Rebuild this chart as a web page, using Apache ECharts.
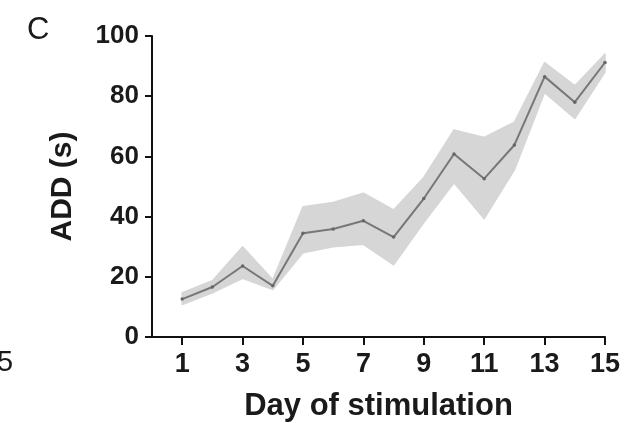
<!DOCTYPE html>
<html><head><meta charset="utf-8">
<script src="https://cdn.jsdelivr.net/npm/echarts@6/dist/echarts.min.js"></script>
<style>html,body{margin:0;padding:0;background:#fff}#c{width:625px;height:423px}</style>
</head><body><div id="c"></div>
<script>
var days = [1,2,3,4,5,6,7,8,9,10,11,12,13,14,15];
var meanADD = [12.6,16.6,23.6,17.0,34.5,35.9,38.6,33.2,46.0,60.8,52.6,63.8,86.5,78.0,91.2];
var upperADD = [14.7,18.7,30.0,19.0,43.3,44.7,47.8,42.2,53.0,68.8,66.3,71.4,91.2,83.5,94.0];
var lowerADD = [10.8,14.7,19.5,15.8,28.0,30.0,30.8,24.0,38.0,51.2,39.3,55.5,81.2,72.6,88.0];
var xTicks = [1,3,5,7,9,11,13,15];
var yTicks = [0,20,40,60,80,100];

var bandData = days.map(function(d,i){return [d, lowerADD[i], upperADD[i]];});
var meanData = days.map(function(d,i){return [d, meanADD[i]];});

var chart = echarts.init(document.getElementById('c'), null, {renderer:'canvas'});
var font = 'Liberation Sans, Arial, sans-serif';
chart.setOption({
  animation:false,
  grid:{left:152, right:20, top:36, bottom:86, containLabel:false, outerBoundsMode:'none'},
  xAxis:{type:'value', min:0, max:15,
    name:'Day of stimulation', nameLocation:'middle', nameGap:54,
    nameTextStyle:{fontFamily:font, fontWeight:'bold', fontSize:31, color:'#1a1a1a'},
    axisLine:{show:true, lineStyle:{color:'#111', width:2}},
    axisTick:{show:true, length:8, lineStyle:{color:'#111', width:2}, customValues:xTicks},
    axisLabel:{fontFamily:font, fontWeight:'bold', fontSize:27, color:'#1a1a1a', margin:14, customValues:xTicks},
    splitLine:{show:false}
  },
  yAxis:{type:'value', min:0, max:100, interval:20,
    name:'ADD (s)', nameLocation:'middle', nameGap:74, nameRotate:90,
    nameTextStyle:{fontFamily:font, fontWeight:'bold', fontSize:30, color:'#1a1a1a'},
    axisLine:{show:true, lineStyle:{color:'#111', width:2}},
    axisTick:{show:true, length:7, lineStyle:{color:'#111', width:2}},
    axisLabel:{fontFamily:font, fontWeight:'bold', fontSize:26, color:'#1a1a1a', margin:13},
    splitLine:{show:false}
  },
  series:[
    {type:'custom', data:bandData, silent:true, z:1,
      encode:{x:0, y:[1,2]},
      renderItem:function(params, api){
        if (params.dataIndex !== 0) return null;
        var pts = [];
        for (var i=0;i<bandData.length;i++) pts.push(api.coord([bandData[i][0], bandData[i][2]]));
        for (var j=bandData.length-1;j>=0;j--) pts.push(api.coord([bandData[j][0], bandData[j][1]]));
        return {type:'polygon', shape:{points:pts}, style:{fill:'#d6d6d6', stroke:'#d6d6d6', lineWidth:1.5, lineJoin:'round'}};
      }
    },
    {type:'line', data:meanData, symbol:'circle', symbolSize:3.5,
      itemStyle:{color:'#666'}, lineStyle:{color:'#777', width:2}, z:5}
  ],
  graphic:[
    {type:'text', left:27, top:15, style:{text:'C', font:'31px ' + font, fill:'#1a1a1a'}},
    {type:'text', left:-3, top:348, style:{text:'5', font:'29px ' + font, fill:'#1a1a1a'}}
  ]
});
</script></body></html>
